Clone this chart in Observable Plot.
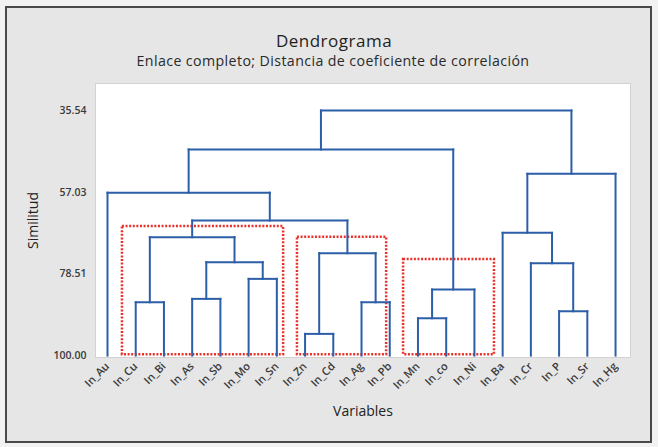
<!DOCTYPE html>
<html><head><meta charset="utf-8">
<script src="https://cdn.jsdelivr.net/npm/d3@7"></script>
<script src="https://cdn.jsdelivr.net/npm/@observablehq/plot@0.6"></script>
<style>
html,body{margin:0;padding:0;background:#f2f2f2;}
#fig{position:relative;width:658px;height:447px;overflow:hidden;font-family:"Open Sans","Noto Sans",sans-serif;}
#frame{position:absolute;left:5px;top:6px;width:643px;height:433px;border:2px solid #4a4a4a;background:#e6e6e6;}
#title{position:absolute;left:0;top:30px;width:668px;text-align:center;font-size:17px;letter-spacing:0.5px;color:#1e1e1e;line-height:22px;}
#subtitle{position:absolute;left:0;top:52px;width:666px;text-align:center;font-size:14.2px;letter-spacing:0.4px;color:#2a2a2a;line-height:18px;}
#chart{position:absolute;left:0;top:80px;}
</style></head>
<body>
<div id="fig">
  <div id="frame"></div>
  <div id="title">Dendrograma</div>
  <div id="subtitle">Enlace completo; Distancia de coeficiente de correlación</div>
  <div id="chart"></div>
</div>
<script>
// Leaves (variables), in dendrogram order
const leaves = ["In_Au","In_Cu","In_Bi","In_As","In_Sb","In_Mo","In_Sn","In_Zn","In_Cd","In_Ag","In_Pb","In_Mn","In_co","In_Ni","In_Ba","In_Cr","In_P","In_Sr","In_Hg"];
// Merge steps: node ids 0..18 are leaves, 19.. are merges in this order
const mergeLeft  = [7, 11, 16, 1, 9, 3, 20, 5, 15, 24, 19, 22, 14, 30, 0, 31, 33, 35];
const mergeRight = [8, 12, 17, 2, 10, 4, 13, 6, 21, 26, 23, 28, 27, 29, 32, 18, 25, 34];
const mergeSim   = [94.29, 90.18, 88.34, 85.97, 85.97, 85.08, 82.63, 79.82, 75.71, 75.45, 73.08, 68.87, 67.72, 64.48, 57.15, 52.19, 45.80, 35.54];
// Axis ticks
const simTicks = [35.54, 57.03, 78.51, 100.00];
// Highlighted groups (dotted red boxes): leaf-index span and top similarity
const boxStart = [0.53, 6.73, 10.49];
const boxEnd   = [6.24, 9.89, 13.71];
const boxTop   = [66.06, 68.87, 74.74];

// Build link segments from the merge list
const nodeX = leaves.map((_, i) => i);
const nodeY = leaves.map(() => 100);
const segs = [];
mergeLeft.forEach((a, k) => {
  const b = mergeRight[k], s = mergeSim[k];
  segs.push({x1: nodeX[a], y1: nodeY[a], x2: nodeX[a], y2: s});
  segs.push({x1: nodeX[b], y1: nodeY[b], x2: nodeX[b], y2: s});
  segs.push({x1: nodeX[a], y1: s, x2: nodeX[b], y2: s});
  nodeX.push((nodeX[a] + nodeX[b]) / 2);
  nodeY.push(s);
});
const boxes = boxStart.map((x1, i) => ({x1, x2: boxEnd[i], y1: boxTop[i], y2: 99.75}));

const blue = "#2d5ea8";
const plot = Plot.plot({
  width: 658,
  height: 367,
  marginLeft: 95,
  marginRight: 28,
  marginTop: 3,
  marginBottom: 90,
  style: {background: "transparent", fontFamily: "'Open Sans','Noto Sans',sans-serif"},
  x: {domain: [-0.425, 18.53], axis: null},
  y: {domain: [100.5, 28.44], axis: null},
  marks: [
    Plot.frame({fill: "white", stroke: "#d2d2d2"}),
    Plot.axisY({ticks: simTicks, tickFormat: d => d.toFixed(2), tickSize: 0, tickPadding: 9, fontSize: 10.5, fontWeight: 600, fill: "#3a3a3a", label: null}),
    Plot.axisX({ticks: d3.range(leaves.length), tickFormat: i => leaves[i], tickRotate: -45, tickSize: 0, tickPadding: 7, fontSize: 11, fontWeight: 600, fill: "#3a3a3a", label: null}),
    Plot.rect(boxes, {x1: "x1", x2: "x2", y1: "y1", y2: "y2", fill: "none", stroke: "#e8312a", strokeWidth: 2.5, strokeDasharray: "2,1.6"}),
    Plot.link(segs, {x1: "x1", y1: "y1", x2: "x2", y2: "y2", stroke: blue, strokeWidth: 2, strokeLinecap: "square"}),
    Plot.text(["Similitud"], {frameAnchor: "left", dx: -62, rotate: -90, textAnchor: "middle", fontSize: 14, fill: "#222"}),
    Plot.text(["Variables"], {frameAnchor: "bottom", dy: 58, textAnchor: "middle", fontSize: 14, fill: "#222"})
  ]
});
document.getElementById("chart").appendChild(plot);
</script>
</body></html>
